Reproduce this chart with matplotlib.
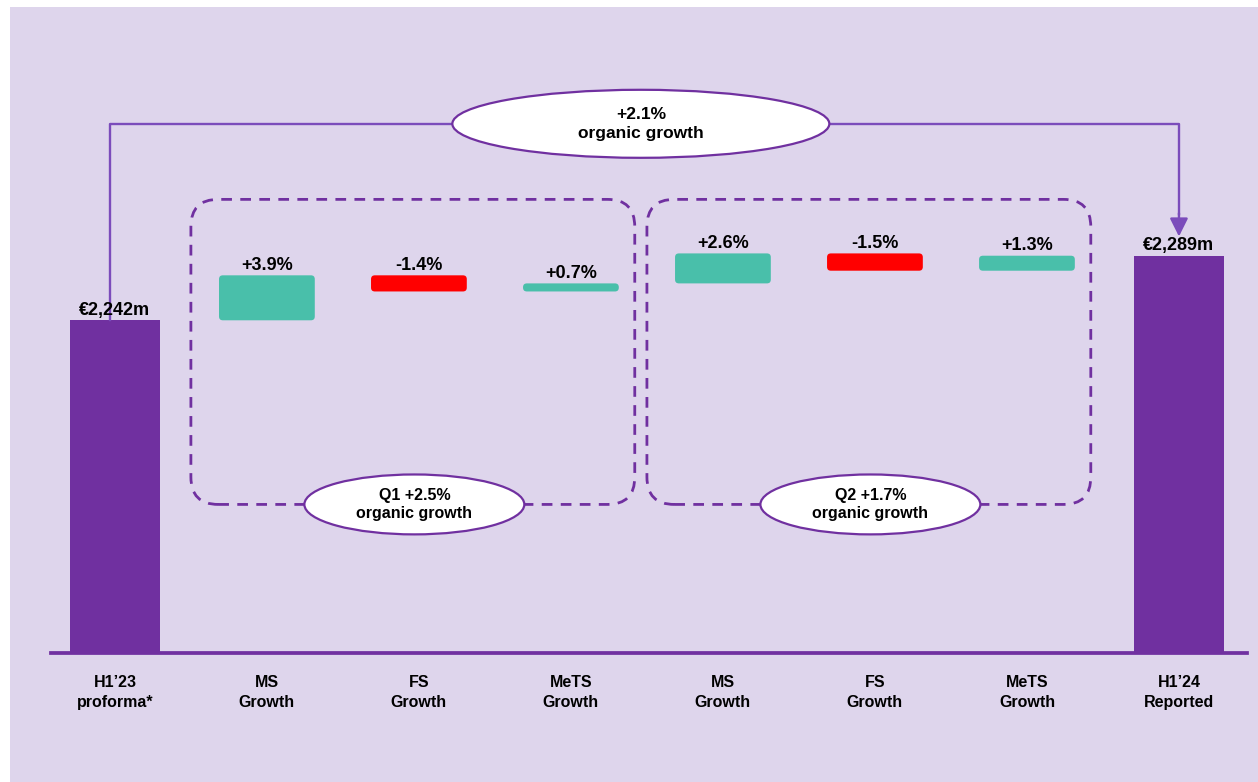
import matplotlib.pyplot as plt
from matplotlib.patches import FancyBboxPatch, Ellipse

# ---- data ----
categories = ["H1’23\nproforma*", "MS\nGrowth", "FS\nGrowth", "MeTS\nGrowth",
              "MS\nGrowth", "FS\nGrowth", "MeTS\nGrowth", "H1’24\nReported"]
start_value = 2242   # €m
end_value = 2289     # €m
step_growth = [3.9, -1.4, 0.7, 2.6, -1.5, 1.3]   # % by segment
quarters = ["Q1", "Q2"]
quarter_growth = [2.5, 1.7]
quarter_steps = [[1, 2, 3], [4, 5, 6]]            # category index per quarter
total_growth = 2.1

# ---- style ----
BG = "#DED5EC"
PURPLE = "#7030A0"
LINK = "#7B4CBB"
GREEN = "#49BFAA"
RED = "#FF0000"
FLOOR = 2000   # truncated value axis

plt.rcParams["font.family"] = ["Liberation Sans", "DejaVu Sans"]
plt.rcParams["font.weight"] = "bold"

W, H = 1258, 782
fig = plt.figure(figsize=(W / 100, H / 100), dpi=100, facecolor="white")
ax = fig.add_axes([10 / W, 0, 1 - 10 / W, 1 - 7 / H])
ax.set_facecolor(BG)
xmin, xmax, ymin, ymax = -0.69, 7.52, 1906, 2470
ax.set_xlim(xmin, xmax)
ax.set_ylim(ymin, ymax)

# pixel aspect, used to keep rounded corners round
px_x = (W - 10) / (xmax - xmin)
px_y = (H - 7) / (ymax - ymin)
aspect = px_x / px_y

# total bars
ax.bar([0, len(categories) - 1], [start_value - FLOOR, end_value - FLOOR],
       bottom=FLOOR, width=0.59, color=PURPLE, zorder=2)
for x, v in [(0, start_value), (len(categories) - 1, end_value)]:
    ax.annotate(f"€{v:,}m", (x, v), xytext=(0, 4), textcoords="offset points",
                ha="center", va="baseline", fontsize=13)

# waterfall steps (visual scale so the bridge closes on the end bar)
scale = (end_value - start_value) / sum(step_growth)
level = start_value
for i, g in enumerate(step_growth):
    x = i + 1
    new = level + g * scale
    lo, hi = min(level, new), max(level, new)
    w = 0.63
    ax.add_patch(FancyBboxPatch((x - w / 2, lo), w, hi - lo,
                                boxstyle="round,pad=0,rounding_size=0.025",
                                mutation_aspect=aspect,
                                fc=GREEN if g > 0 else RED, ec="none", zorder=3))
    ax.annotate(f"{g:+.1f}%", (x, hi), xytext=(0, 4), textcoords="offset points",
                ha="center", va="baseline", fontsize=13)
    level = new

# quarter boxes with ellipse labels
box_lo, box_hi = 2108, 2330
for q, g, idx in zip(quarters, quarter_growth, quarter_steps):
    x0, x1 = idx[0] - 0.5, idx[-1] + 0.42
    ax.add_patch(FancyBboxPatch((x0, box_lo), x1 - x0, box_hi - box_lo,
                                boxstyle="round,pad=0,rounding_size=0.18",
                                mutation_aspect=aspect, fill=False,
                                ec=PURPLE, lw=2, linestyle=(0, (3.85, 3)),
                                zorder=2))
    cx = (idx[0] + idx[-1]) / 2
    ax.add_patch(Ellipse((cx - 0.03, box_lo), 1.447, 43.6, fc="white",
                         ec=PURPLE, lw=1.6, zorder=5))
    ax.text(cx - 0.03, box_lo, f"{q} {g:+.1f}%\norganic growth", ha="center",
            va="center", fontsize=11.5, linespacing=1.3, zorder=6)

# overall bridge arrow
top = 2385
last = len(categories) - 1
ax.plot([-0.03, -0.03, last, last], [start_value, top, top, end_value + 30],
        color=LINK, lw=1.7, zorder=2)
ax.annotate("", xy=(last, end_value + 14), xytext=(last, end_value + 31),
            arrowprops=dict(arrowstyle="-|>,head_length=1.1,head_width=0.55",
                            color=LINK, lw=1.7, shrinkA=0, shrinkB=0,
                            mutation_scale=10), zorder=2)
ax.add_patch(Ellipse((last / 2 - 0.04, top), 2.48, 49.5, fc="white",
                     ec=PURPLE, lw=1.6, zorder=5))
ax.text(last / 2 - 0.04, top, f"{total_growth:+.1f}%\norganic growth",
        ha="center", va="center", fontsize=12.5, linespacing=1.3, zorder=6)

# axes: baseline as the bottom spine
for s in ["top", "right", "left"]:
    ax.spines[s].set_visible(False)
ax.spines["bottom"].set_position(("data", FLOOR))
ax.spines["bottom"].set_bounds(-0.42, 7.45)
ax.spines["bottom"].set_color(PURPLE)
ax.spines["bottom"].set_linewidth(2.7)
ax.spines["bottom"].set_zorder(1)
ax.set_yticks([])
ax.set_xticks(range(len(categories)), categories)
ax.tick_params(axis="x", length=0, pad=16, labelsize=11.5)
for lab in ax.get_xticklabels():
    lab.set_linespacing(1.4)

fig.savefig("out.png", dpi=100, facecolor="white")
